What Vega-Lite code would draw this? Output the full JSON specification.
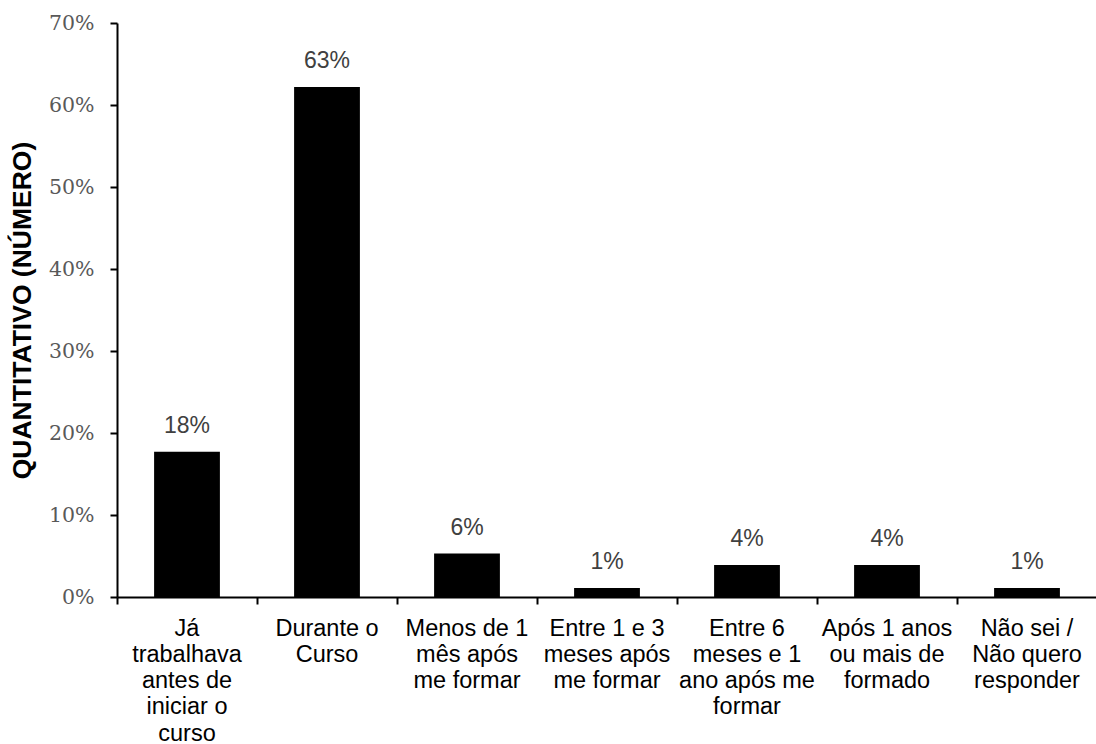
{
  "$schema": "https://vega.github.io/schema/vega-lite/v6.json",
  "width": 980,
  "height": 574,
  "autosize": {"type": "none"},
  "padding": {"left": 117, "top": 23, "right": 0, "bottom": 147},
  "background": "white",
  "config": {"view": {"stroke": null}},
  "data": {
    "values": [
      {"categoria": "Já\ntrabalhava\nantes de\niniciar o\ncurso", "valor": 0.177, "rotulo": "18%"},
      {"categoria": "Durante o\nCurso", "valor": 0.622, "rotulo": "63%"},
      {"categoria": "Menos de 1\nmês após\nme formar", "valor": 0.053, "rotulo": "6%"},
      {"categoria": "Entre 1 e 3\nmeses após\nme formar", "valor": 0.011, "rotulo": "1%"},
      {"categoria": "Entre 6\nmeses e 1\nano após me\nformar", "valor": 0.039, "rotulo": "4%"},
      {"categoria": "Após 1 anos\nou mais de\nformado", "valor": 0.039, "rotulo": "4%"},
      {"categoria": "Não sei /\nNão quero\nresponder", "valor": 0.011, "rotulo": "1%"}
    ]
  },
  "encoding": {
    "x": {
      "field": "categoria",
      "type": "nominal",
      "sort": null,
      "scale": {"paddingInner": 0, "paddingOuter": 0},
      "axis": {
        "title": null,
        "labelAngle": 0,
        "labelExpr": "split(datum.label, '\\n')",
        "labelFont": "Liberation Sans",
        "labelFontSize": 23.5,
        "labelColor": "#000000",
        "labelLineHeight": 26.3,
        "labelBaseline": "top",
        "labelPadding": 12,
        "labelLimit": 200,
        "bandPosition": 0,
        "domainColor": "#000000",
        "domainWidth": 2,
        "tickColor": "#000000",
        "tickWidth": 2,
        "tickSize": 7,
        "grid": false
      }
    },
    "y": {
      "field": "valor",
      "type": "quantitative",
      "scale": {"domain": [0, 0.7], "nice": false},
      "axis": {
        "title": "QUANTITATIVO (NÚMERO)",
        "titleFont": "Liberation Sans",
        "titleFontSize": 26.5,
        "titleFontWeight": "bold",
        "titleColor": "#000000",
        "titlePadding": 12,
        "values": [0, 0.1, 0.2, 0.3, 0.4, 0.5, 0.6, 0.7],
        "format": ".0%",
        "labelFont": "DejaVu Serif",
        "labelFontSize": 20.5,
        "labelColor": "#595959",
        "labelPadding": 16,
        "domainColor": "#000000",
        "domainWidth": 2,
        "tickColor": "#000000",
        "tickWidth": 2,
        "tickSize": 7,
        "grid": false
      }
    }
  },
  "layer": [
    {
      "mark": {"type": "bar", "color": "#000000", "width": {"band": 0.47}}
    },
    {
      "mark": {"type": "text", "font": "Liberation Sans", "fontSize": 23, "color": "#404040", "baseline": "alphabetic", "dy": -19},
      "encoding": {"text": {"field": "rotulo"}}
    }
  ]
}
